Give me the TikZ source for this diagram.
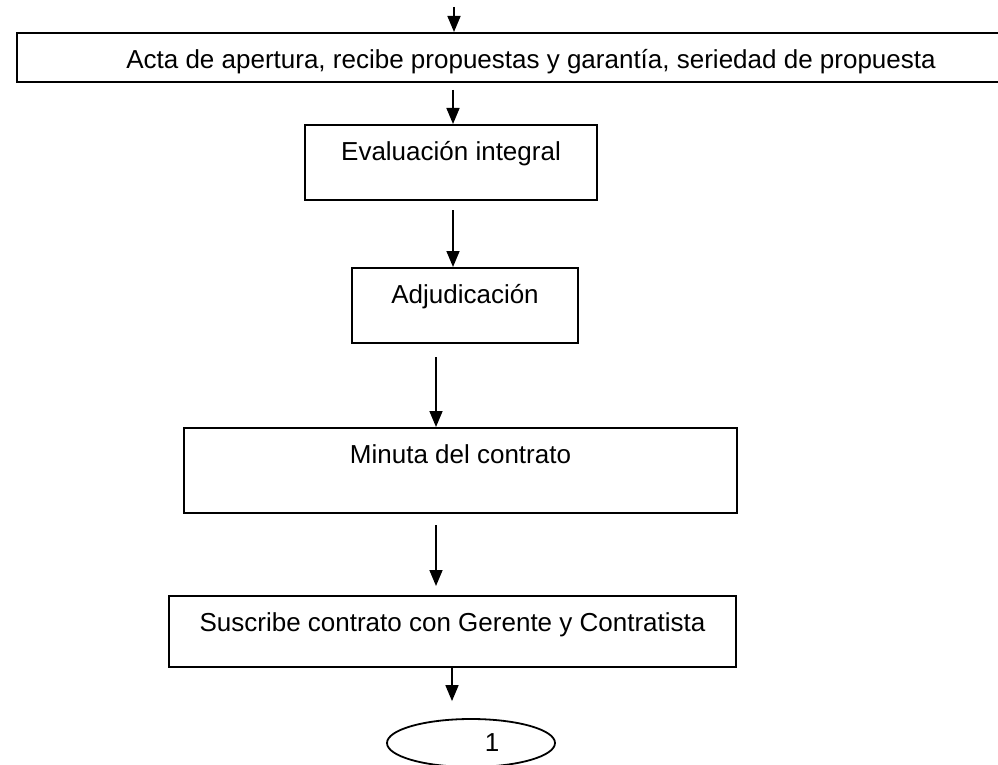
\documentclass[tikz,border=0pt]{standalone}
\usepackage{fontspec}
\setmainfont{Liberation Sans}
\usetikzlibrary{arrows.meta, shapes.geometric}

\begin{document}
\begin{tikzpicture}[x=1pt, y=-1pt,
  caja/.style={draw, line width=1.8pt, inner sep=0pt, anchor=north, text height=36pt, font=\fontsize{26}{30}\selectfont},
  flecha/.style={-{Triangle[length=16pt, width=13pt]}, line width=1.6pt},
  conector/.style={draw, ellipse, line width=1.8pt, inner sep=0pt, minimum width=168pt, minimum height=48pt, font=\fontsize{26}{30}\selectfont}]
\useasboundingbox (0,0) rectangle (998,765);
\node [caja, minimum width=1028pt, text depth=13pt] (acta) at (531,32) {Acta de apertura, recibe propuestas y garantía, seriedad de propuesta};
\node [caja, minimum width=292pt, text depth=39pt] (eval) at (451,124) {Evaluación integral};
\node [caja, minimum width=226pt, text depth=39pt] (adj) at (465,267) {Adjudicación};
\node [caja, minimum width=553pt, text depth=49pt] (min) at (460.5,427) {Minuta del contrato};
\node [caja, minimum width=567pt, text depth=35pt] (sus) at (452.5,595) {Suscribe contrato con Gerente y Contratista};
\node [conector] (uno) at (471,743) {\hspace*{42pt}1};
\coordinate (c1) at (454,7);
\coordinate (c2) at (453,90);
\coordinate (c3) at (453,210);
\coordinate (c4) at (436,357);
\coordinate (c5) at (436,525);
\coordinate (c6) at (452,666);
\draw [flecha] (c1) -- (c1 |- acta.north);
\draw [flecha] (c2) -- (c2 |- eval.north);
\draw [flecha] (c3) -- (c3 |- adj.north);
\draw [flecha] (c4) -- (c4 |- min.north);
\draw [flecha, shorten >=9pt] (c5) -- (c5 |- sus.north);
\draw [flecha, shorten >=17pt] (c6) -- (c6 |- uno.north);
\end{tikzpicture}
\end{document}
